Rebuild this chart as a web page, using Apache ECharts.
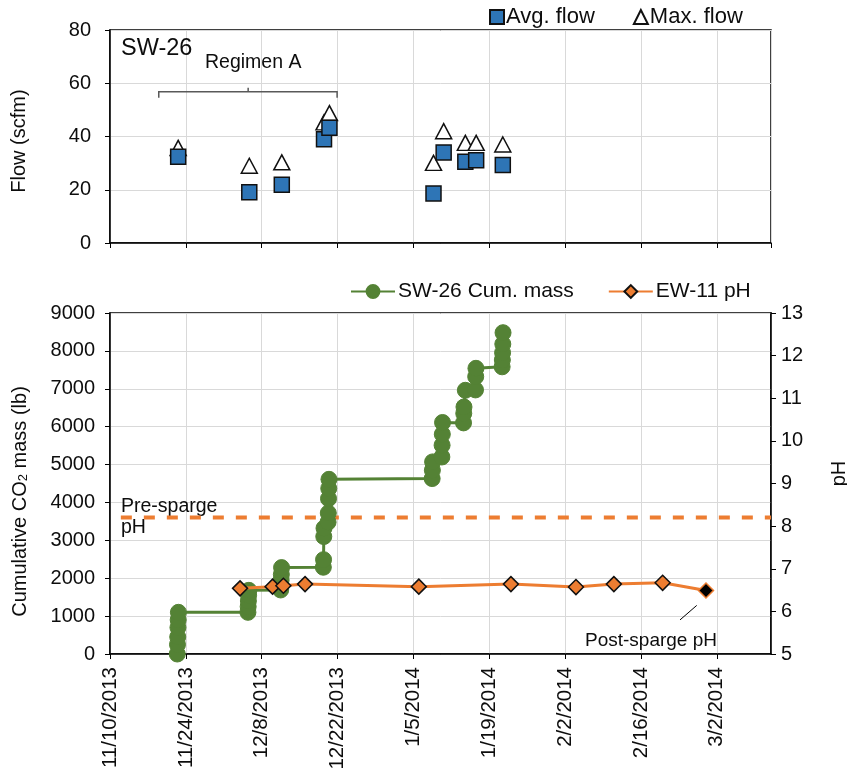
<!DOCTYPE html>
<html>
<head>
<meta charset="utf-8">
<script src="https://cdn.jsdelivr.net/npm/echarts@6/dist/echarts.min.js"></script>
<style>
  html, body { margin: 0; padding: 0; background: #fff; }
  #chart { width: 847px; height: 775px; }
</style>
</head>
<body>
<div id="chart"></div>
<script>
// Time axis: origin, end and tick spacing (days)
const startDate = '2013-11-10';
const endDate = '2014-03-12';
const tickDays = 14;

// SW-26 flow readings (scfm)
const flowDates = ['2013-11-22 14:00', '2013-12-05 17:00', '2013-12-11 17:00', '2013-12-19 12:00', '2013-12-20 12:00',
                   '2014-01-08 17:00', '2014-01-10 14:00', '2014-01-14 14:00', '2014-01-16 14:00', '2014-01-21 12:00'];
const avgFlow = [32.4, 19.1, 21.9, 39.0, 43.3, 18.6, 34.0, 30.5, 31.1, 29.3];
const maxFlow = [35.7, 29.0, 30.3, 45.3, 48.8, 30.1, 42.0, 37.6, 37.6, 37.0];

// SW-26 cumulative CO2 mass (lb)
const massDates = [
  '2013-11-22 10:00', '2013-11-22 11:00', '2013-11-22 12:00', '2013-11-22 13:00', '2013-11-22 14:00', '2013-11-22 15:00',
  '2013-12-05 11:00', '2013-12-05 12:00', '2013-12-05 13:00', '2013-12-05 14:00', '2013-12-05 15:00',
  '2013-12-11 12:00', '2013-12-11 13:00', '2013-12-11 14:00', '2013-12-11 15:00', '2013-12-11 16:00',
  '2013-12-19 09:00', '2013-12-19 10:00', '2013-12-19 11:00', '2013-12-19 12:00',
  '2013-12-20 06:00', '2013-12-20 07:00', '2013-12-20 08:00', '2013-12-20 09:00', '2013-12-20 10:00',
  '2014-01-08 11:00', '2014-01-08 12:00', '2014-01-08 13:00',
  '2014-01-10 06:00', '2014-01-10 07:00', '2014-01-10 08:00', '2014-01-10 09:00',
  '2014-01-14 06:00', '2014-01-14 07:00', '2014-01-14 08:00', '2014-01-14 14:00',
  '2014-01-16 11:00', '2014-01-16 12:00', '2014-01-16 13:00',
  '2014-01-21 09:00', '2014-01-21 10:00', '2014-01-21 11:00', '2014-01-21 12:00', '2014-01-21 13:00'
];
const cumMass = [
  0, 250, 450, 700, 900, 1100,
  1100, 1250, 1400, 1550, 1680,
  1690, 1820, 1950, 2100, 2280,
  2290, 2490, 3100, 3320,
  3480, 3720, 4100, 4370, 4610,
  4630, 4850, 5070,
  5200, 5510, 5800, 6110,
  6100, 6350, 6520, 6960,
  6970, 7320, 7540,
  7580, 7760, 7950, 8180, 8480
];

// EW-11 pH
const phDates = ['2013-12-04', '2013-12-10', '2013-12-12', '2013-12-16', '2014-01-06',
                 '2014-01-23', '2014-02-04', '2014-02-11', '2014-02-20', '2014-02-28'];
const ph = [6.54, 6.58, 6.60, 6.64, 6.58, 6.64, 6.57, 6.64, 6.67, 6.49];
const preSpargePH = 8.2;
const preSpargeFrom = '2013-11-12';

const DAY = 86400000;
function toUTC(s) {
  const [d, t = '00:00'] = s.split(' ');
  const [Y, M, D] = d.split('-').map(Number);
  const [h, m] = t.split(':').map(Number);
  return Date.UTC(Y, M - 1, D, h, m);
}
const origin = toUTC(startDate);
const toDay = s => (toUTC(s) - origin) / DAY;
const maxDay = toDay(endDate);

function dateLabel(v) {
  if (Math.abs(v % tickDays) > 1e-6) return '';
  const d = new Date(origin + v * DAY);
  return (d.getUTCMonth() + 1) + '/' + d.getUTCDate() + '/' + d.getUTCFullYear();
}
const plainNumber = v => String(v);

const FONT = '"Liberation Sans", Arial, sans-serif';
const TXT = '#0d0d0d';
const GRID = '#d9d9d9';
const GREEN = '#548235';
const ORANGE = '#ED7D31';
const BLUE = '#2E75B6';

const axisLine = { show: true, lineStyle: { color: '#000', width: 1.5 } };
const axisTick = { show: true, length: 5, lineStyle: { color: '#000', width: 1 } };
const splitLine = { show: true, lineStyle: { color: GRID, width: 1 } };

const chart = echarts.init(document.getElementById('chart'), null, { renderer: 'canvas' });

const gridBase = {
  left: 110, right: 76, show: true, borderColor: '#000', borderWidth: 1.5,
  backgroundColor: 'transparent', containLabel: false, outerBoundsMode: 'none'
};

const option = {
  animation: false,
  backgroundColor: '#fff',
  textStyle: { fontFamily: FONT, color: TXT },
  grid: [
    Object.assign({ top: 30, height: 213 }, gridBase),
    Object.assign({ top: 313, height: 341 }, gridBase)
  ],
  legend: [
    {
      data: ['Avg. flow', 'Max. flow'],
      left: 484, top: 1, itemGap: 38, itemWidth: 14, itemHeight: 14,
      textStyle: { fontSize: 22, color: TXT, fontFamily: FONT, padding: [0, 0, 0, -3] }
    },
    {
      data: ['SW-26 Cum. mass', 'EW-11 pH'],
      left: 345, top: 276, itemGap: 34, itemWidth: 44, itemHeight: 16,
      textStyle: { fontSize: 21, color: TXT, fontFamily: FONT, padding: [0, 0, 0, -2] }
    }
  ],
  xAxis: [
    {
      gridIndex: 0, type: 'value', min: 0, max: maxDay, interval: tickDays,
      axisLine, axisTick, splitLine, axisLabel: { show: false }
    },
    {
      gridIndex: 1, type: 'value', min: 0, max: maxDay, interval: tickDays,
      axisLine, axisTick, splitLine,
      axisLabel: { rotate: 90, fontSize: 20.5, color: TXT, margin: 13, formatter: dateLabel, showMaxLabel: false }
    }
  ],
  yAxis: [
    {
      gridIndex: 0, type: 'value', min: 0, max: 80, interval: 20,
      name: 'Flow (scfm)', nameLocation: 'middle', nameRotate: 90, nameGap: 81,
      nameTextStyle: { fontSize: 20, color: TXT, padding: [0, 9, 0, 0] },
      axisLine, axisTick, splitLine,
      axisLabel: { fontSize: 20, color: TXT, margin: 19, formatter: plainNumber }
    },
    {
      gridIndex: 1, type: 'value', min: 0, max: 9000, interval: 1000,
      name: 'Cumulative CO{sub|2} mass (lb)', nameLocation: 'middle', nameRotate: 90, nameGap: 80,
      nameTextStyle: {
        fontSize: 20, color: TXT, padding: [0, 36, 0, 0],
        rich: { sub: { fontSize: 13, color: TXT, verticalAlign: 'bottom', padding: [7, 0, 0, 0] } }
      },
      axisLine, axisTick, splitLine,
      axisLabel: { fontSize: 20, color: TXT, margin: 15, formatter: plainNumber }
    },
    {
      gridIndex: 1, type: 'value', position: 'right', min: 5, max: 13, interval: 1,
      name: 'pH', nameLocation: 'middle', nameRotate: 90, nameGap: 58,
      nameTextStyle: { fontSize: 20, color: TXT, padding: [0, 0, 0, 20] },
      axisLine, axisTick, splitLine: { show: false },
      axisLabel: { fontSize: 20, color: TXT, margin: 10, formatter: plainNumber }
    }
  ],
  series: [
    {
      name: 'Avg. flow', type: 'scatter', xAxisIndex: 0, yAxisIndex: 0, z: 4,
      symbol: 'rect', symbolSize: 15,
      itemStyle: { color: BLUE, borderColor: '#111', borderWidth: 1.5, opacity: 1 },
      data: flowDates.map((d, i) => [toDay(d), avgFlow[i]])
    },
    {
      name: 'Max. flow', type: 'scatter', xAxisIndex: 0, yAxisIndex: 0, z: 3,
      symbol: 'triangle', symbolSize: [16, 15],
      itemStyle: { color: '#fff', borderColor: '#111', borderWidth: 1.5, opacity: 1 },
      data: flowDates.map((d, i) => [toDay(d), maxFlow[i]])
    },
    {
      name: 'SW-26 Cum. mass', type: 'line', xAxisIndex: 1, yAxisIndex: 1, z: 3,
      symbol: 'circle', symbolSize: 16, showAllSymbol: true,
      lineStyle: { color: GREEN, width: 3 },
      itemStyle: { color: GREEN, borderColor: GREEN, borderWidth: 1 },
      data: massDates.map((d, i) => [toDay(d), cumMass[i]])
    },
    {
      name: 'EW-11 pH', type: 'line', xAxisIndex: 1, yAxisIndex: 2, z: 4,
      symbol: 'diamond', symbolSize: 15,
      lineStyle: { color: ORANGE, width: 3 },
      itemStyle: { color: ORANGE, borderColor: '#111', borderWidth: 1.5 },
      data: phDates.map((d, i) => {
        const item = { value: [toDay(d), ph[i]] };
        if (i === phDates.length - 1) item.itemStyle = { color: '#000', borderColor: ORANGE, borderWidth: 1.5 };
        return item;
      })
    },
    {
      name: 'Pre-sparge pH', type: 'line', xAxisIndex: 1, yAxisIndex: 2, z: 2,
      symbol: 'none', silent: true,
      lineStyle: { color: ORANGE, width: 4, type: [11, 12] },
      data: [[toDay(preSpargeFrom), preSpargePH], [maxDay, preSpargePH]]
    }
  ]
};
chart.setOption(option);

// Annotations placed from data coordinates
const p0 = (x, y) => chart.convertToPixel({ gridIndex: 0 }, [x, y]);
const pPH = (x, y) => chart.convertToPixel({ xAxisIndex: 1, yAxisIndex: 2 }, [x, y]);

const bl = p0(toDay('2013-11-19'), 56.8);
const br = p0(toDay('2013-12-21 22:00'), 56.8);
const bm = p0(toDay('2013-12-05 12:00'), 56.8);
const drop = 6, rise = 4;
const lead0 = pPH(toDay('2014-02-23 05:00'), 5.8);
const lead1 = pPH(toDay('2014-02-26 07:00'), 6.14);

chart.setOption({
  graphic: [
    { type: 'text', left: 121, top: 37, style: { text: 'SW-26', font: '23.5px ' + FONT, fill: TXT } },
    { type: 'text', left: 205, top: 53, style: { text: 'Regimen A', font: '19.5px ' + FONT, fill: TXT } },
    {
      type: 'polyline', silent: true,
      shape: { points: [[bl[0], bl[1] + drop], [bl[0], bl[1]], [br[0], br[1]], [br[0], br[1] + drop]] },
      style: { stroke: '#595959', lineWidth: 1.5, fill: null }
    },
    {
      type: 'line', silent: true,
      shape: { x1: bm[0], y1: bm[1], x2: bm[0], y2: bm[1] - rise },
      style: { stroke: '#595959', lineWidth: 1.5 }
    },
    { type: 'text', left: 121, top: 496, style: { text: 'Pre-sparge\npH', font: '19.5px ' + FONT, lineHeight: 21, fill: TXT } },
    { type: 'text', left: 585, top: 631, style: { text: 'Post-sparge pH', font: '19px ' + FONT, fill: TXT } },
    {
      type: 'line', silent: true,
      shape: { x1: lead0[0], y1: lead0[1], x2: lead1[0], y2: lead1[1] },
      style: { stroke: '#000', lineWidth: 1 }
    }
  ]
});
</script>
</body>
</html>
